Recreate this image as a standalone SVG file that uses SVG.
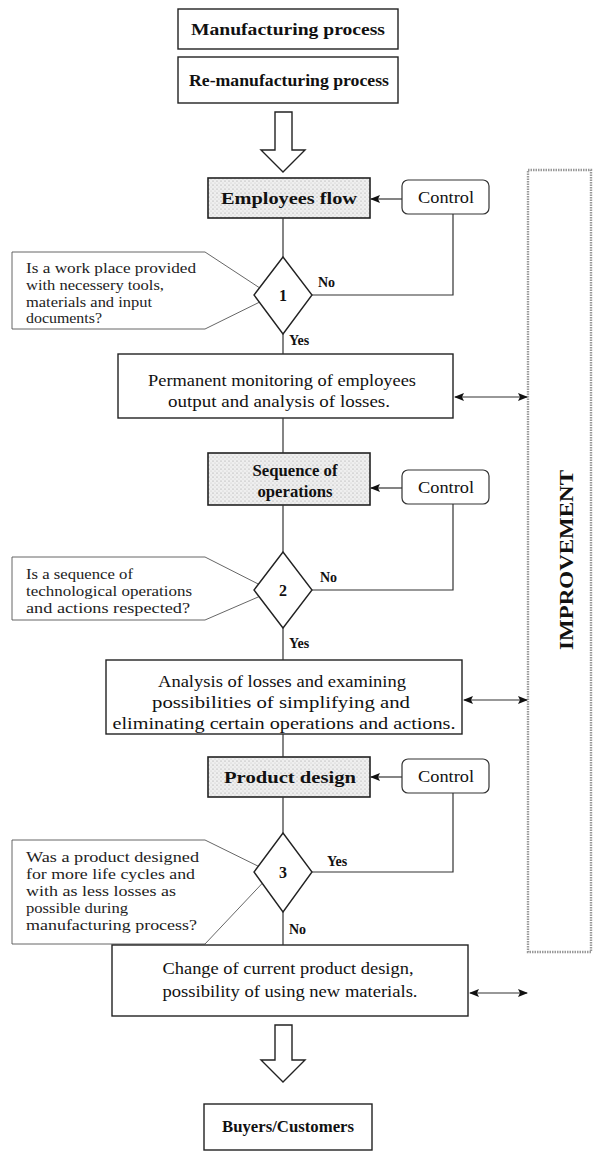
<svg xmlns="http://www.w3.org/2000/svg" width="602" height="1157" viewBox="0 0 602 1157">
<style>
.box{fill:#fff;stroke:#222;stroke-width:1.4}
.gray{fill:url(#dots);stroke:#222;stroke-width:1.6}
.ctrl{fill:#fff;stroke:#333;stroke-width:1.2}
.ln{fill:none;stroke:#333;stroke-width:1.2}
.thin{fill:#fff;stroke:#555;stroke-width:0.9}
.hollow{fill:#fff;stroke:#222;stroke-width:1.4}
.t{font-family:"Liberation Serif","Times New Roman",serif;font-size:16px;fill:#111;text-anchor:middle}
.b{font-weight:bold}
.s{font-family:"Liberation Serif","Times New Roman",serif;font-size:14.5px;fill:#222}
.lbl{font-family:"Liberation Serif","Times New Roman",serif;font-size:14px;font-weight:bold;fill:#111}
.imp{fill:none;stroke:#999;stroke-width:2.4;stroke-dasharray:1.5 1}
</style>
<defs>
<pattern id="dots" width="4" height="4" patternUnits="userSpaceOnUse">
<rect width="4" height="4" fill="#efefef"/>
<circle cx="1" cy="1" r="0.6" fill="#9a9a9a"/>
<circle cx="3" cy="3" r="0.5" fill="#bdbdbd"/>
</pattern>
<marker id="ah" markerWidth="10" markerHeight="8" refX="9" refY="4" orient="auto-start-reverse" markerUnits="userSpaceOnUse">
<path d="M0,0 L10,4 L0,8 L2,4 Z" fill="#111"/>
</marker>
</defs>

<g id="improvement">
<rect class="imp" x="528" y="170" width="63" height="782"/>
<text class="t b" transform="translate(573,560) rotate(-90)" style="font-size:19px" textLength="180" lengthAdjust="spacingAndGlyphs">IMPROVEMENT</text>
</g>

<g id="manufacturing">
<rect class="box" x="178" y="9" width="220" height="40"/>
<text class="t b" x="288" y="35" textLength="194" lengthAdjust="spacingAndGlyphs">Manufacturing process</text>
</g>
<g id="remanufacturing">
<rect class="box" x="178" y="57" width="220" height="46"/>
<text class="t b" x="289" y="86" textLength="200" lengthAdjust="spacingAndGlyphs">Re-manufacturing process</text>
</g>

<g id="question1">
<path class="thin" d="M272,296 L205,252 L12,252 L12,329 L205,329 Z"/>
<text class="s" x="26" y="273" textLength="170" lengthAdjust="spacingAndGlyphs">Is a work place provided</text>
<text class="s" x="26" y="290" textLength="138" lengthAdjust="spacingAndGlyphs">with necessery tools,</text>
<text class="s" x="26" y="307" textLength="126" lengthAdjust="spacingAndGlyphs">materials and input</text>
<text class="s" x="26" y="323" textLength="76" lengthAdjust="spacingAndGlyphs">documents?</text>
</g>
<g id="employees">
<rect class="gray" x="208" y="178" width="162" height="40"/>
<text class="t b" x="289" y="204" textLength="136" lengthAdjust="spacingAndGlyphs">Employees flow</text>
</g>
<g id="control1">
<rect class="ctrl" x="402" y="180" width="87" height="34" rx="6"/>
<text class="t" x="446" y="203" textLength="56" lengthAdjust="spacingAndGlyphs">Control</text>
</g>
<g id="decision1">
<path class="box" d="M283,257 L312,295 L283,334 L254,295 Z"/>
<text class="t b" x="283" y="301">1</text>
</g>
<g id="monitoring">
<rect class="box" x="118" y="354" width="335" height="64"/>
<text class="t" x="282" y="386" textLength="268" lengthAdjust="spacingAndGlyphs">Permanent monitoring of employees</text>
<text class="t" x="279" y="407" textLength="222" lengthAdjust="spacingAndGlyphs">output and analysis of losses.</text>
</g>

<g id="question2">
<path class="thin" d="M272,591 L205,557 L12,557 L12,620 L205,620 Z"/>
<text class="s" x="26" y="579" textLength="107" lengthAdjust="spacingAndGlyphs">Is a sequence of</text>
<text class="s" x="26" y="596" textLength="166" lengthAdjust="spacingAndGlyphs">technological operations</text>
<text class="s" x="26" y="613" textLength="164" lengthAdjust="spacingAndGlyphs">and actions respected?</text>
</g>
<g id="sequence">
<rect class="gray" x="208" y="453" width="162" height="52"/>
<text class="t b" x="295" y="476" textLength="85" lengthAdjust="spacingAndGlyphs">Sequence of</text>
<text class="t b" x="295" y="497" textLength="75" lengthAdjust="spacingAndGlyphs">operations</text>
</g>
<g id="control2">
<rect class="ctrl" x="402" y="470" width="87" height="34" rx="6"/>
<text class="t" x="446" y="493" textLength="56" lengthAdjust="spacingAndGlyphs">Control</text>
</g>
<g id="decision2">
<path class="box" d="M283,552 L312,590 L283,628 L254,590 Z"/>
<text class="t b" x="283" y="596">2</text>
</g>
<g id="analysis">
<rect class="box" x="106" y="660" width="356" height="74"/>
<text class="t" x="282" y="687" textLength="248" lengthAdjust="spacingAndGlyphs">Analysis of losses and examining</text>
<text class="t" x="281" y="708" textLength="258" lengthAdjust="spacingAndGlyphs">possibilities of simplifying and</text>
<text class="t" x="284" y="729" textLength="343" lengthAdjust="spacingAndGlyphs">eliminating certain operations and actions.</text>
</g>

<g id="question3">
<path class="thin" d="M272,873 L205,840 L12,840 L12,944 L205,944 Z"/>
<text class="s" x="26" y="862" textLength="173" lengthAdjust="spacingAndGlyphs">Was a product designed</text>
<text class="s" x="26" y="879" textLength="169" lengthAdjust="spacingAndGlyphs">for more life cycles and</text>
<text class="s" x="26" y="896" textLength="150" lengthAdjust="spacingAndGlyphs">with as less losses as</text>
<text class="s" x="26" y="913" textLength="102" lengthAdjust="spacingAndGlyphs">possible during</text>
<text class="s" x="26" y="930" textLength="171" lengthAdjust="spacingAndGlyphs">manufacturing process?</text>
</g>
<g id="product">
<rect class="gray" x="208" y="757" width="162" height="40"/>
<text class="t b" x="290" y="783" textLength="132" lengthAdjust="spacingAndGlyphs">Product design</text>
</g>
<g id="control3">
<rect class="ctrl" x="402" y="759" width="87" height="34" rx="6"/>
<text class="t" x="446" y="782" textLength="56" lengthAdjust="spacingAndGlyphs">Control</text>
</g>
<g id="decision3">
<path class="box" d="M283,833 L312,872 L283,912 L254,872 Z"/>
<text class="t b" x="283" y="878">3</text>
</g>
<g id="change">
<rect class="box" x="112" y="945" width="356" height="71"/>
<text class="t" x="288" y="974" textLength="251" lengthAdjust="spacingAndGlyphs">Change of current product design,</text>
<text class="t" x="290" y="997" textLength="255" lengthAdjust="spacingAndGlyphs">possibility of using new materials.</text>
</g>

<g id="buyers">
<rect class="box" x="204" y="1104" width="168" height="46"/>
<text class="t b" x="288" y="1132" textLength="132" lengthAdjust="spacingAndGlyphs">Buyers/Customers</text>
</g>

<g id="connectors">
<path class="hollow" d="M275,112 L292,112 L292,150 L305,150 L283,172 L261,150 L275,150 Z"/>
<path class="hollow" d="M275,1025 L292,1025 L292,1060 L305,1060 L283,1082 L261,1060 L275,1060 Z"/>
<line class="ln" x1="402" y1="199" x2="371" y2="199" marker-end="url(#ah)"/>
<line class="ln" x1="402" y1="488" x2="371" y2="488" marker-end="url(#ah)"/>
<line class="ln" x1="402" y1="777" x2="371" y2="777" marker-end="url(#ah)"/>
<path class="ln" d="M453,214 L453,295 L312,295"/>
<path class="ln" d="M453,504 L453,590 L312,590"/>
<path class="ln" d="M453,793 L453,872 L312,872"/>
<line class="ln" x1="283" y1="218" x2="283" y2="257"/>
<line class="ln" x1="283" y1="334" x2="283" y2="354"/>
<line class="ln" x1="283" y1="418" x2="283" y2="453"/>
<line class="ln" x1="283" y1="505" x2="283" y2="552"/>
<line class="ln" x1="283" y1="628" x2="283" y2="660"/>
<line class="ln" x1="283" y1="734" x2="283" y2="757"/>
<line class="ln" x1="283" y1="797" x2="283" y2="833"/>
<line class="ln" x1="283" y1="912" x2="283" y2="945"/>
<line class="ln" x1="455" y1="397" x2="527" y2="397" marker-start="url(#ah)" marker-end="url(#ah)"/>
<line class="ln" x1="464" y1="700" x2="527" y2="700" marker-start="url(#ah)" marker-end="url(#ah)"/>
<line class="ln" x1="470" y1="993" x2="527" y2="993" marker-start="url(#ah)" marker-end="url(#ah)"/>
<text class="lbl" x="318" y="287">No</text>
<text class="lbl" x="289" y="345">Yes</text>
<text class="lbl" x="320" y="582">No</text>
<text class="lbl" x="289" y="648">Yes</text>
<text class="lbl" x="327" y="866">Yes</text>
<text class="lbl" x="289" y="934">No</text>
</g>
</svg>
